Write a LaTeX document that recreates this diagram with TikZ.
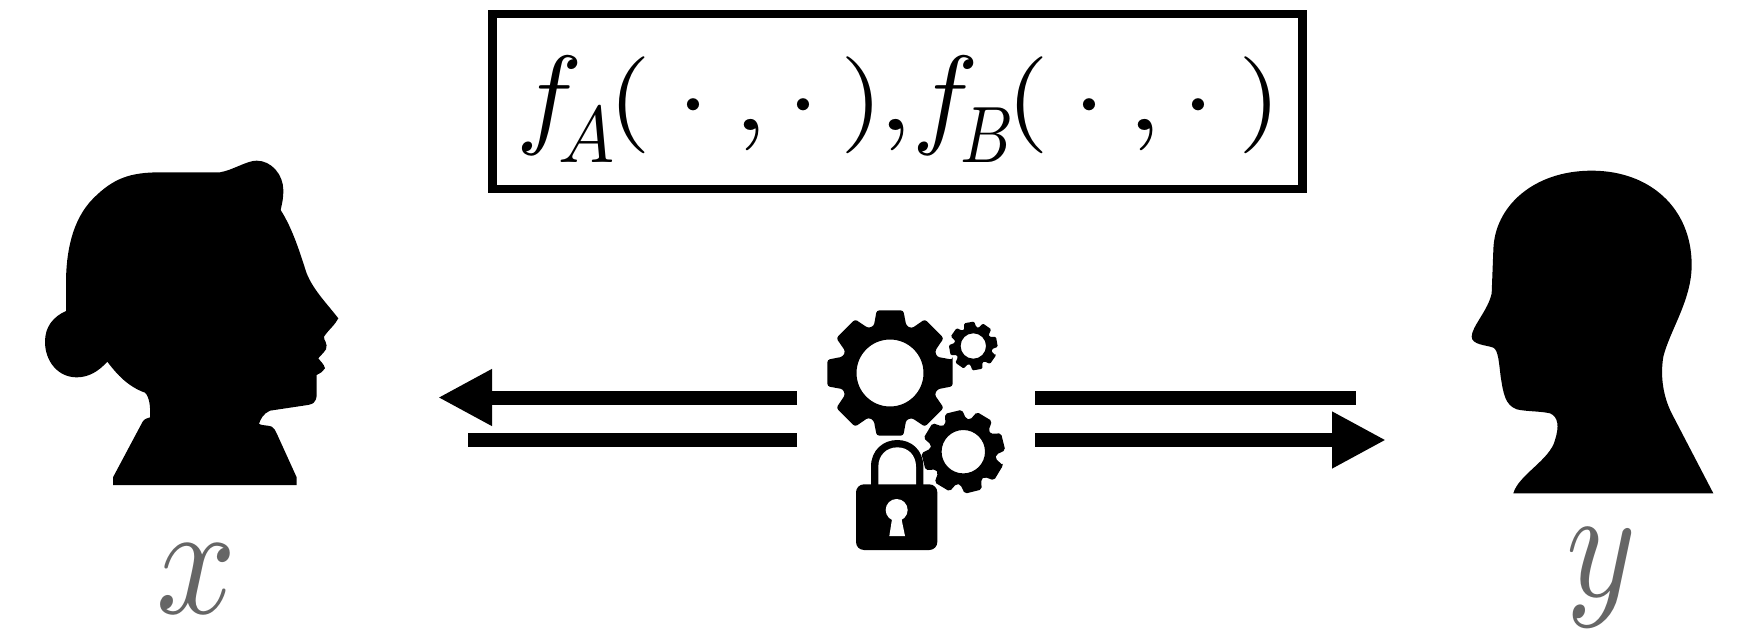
\documentclass[tikz,border=0pt]{standalone}
\usetikzlibrary{arrows.meta}
\definecolor{labelgrey}{HTML}{666666}
\newcommand{\gearshape}[7]{% cx cy rout rroot rhole rot corner
  \begin{scope}[shift={(#1,#2)}]
    \fill[black,even odd rule,rounded corners=#7pt]
      ({#6-12}:#3)
      foreach \a in {0,45,...,315} {
        -- ({#6+\a-12}:#3) -- ({#6+\a+12}:#3)
        -- ({#6+\a+19}:#4) -- ({#6+\a+26}:{#4-0.3})
      } -- cycle
      (0,0) circle[radius=#5pt];
  \end{scope}}
% formula pieces: raised/lowered relative to the baseline of the formula
\newcommand{\ff}{\raisebox{-1pt}{\scalebox{11.1}{$f$}}}
\newcommand{\fsub}[2]{\raisebox{-29pt}{\scalebox{#1}[8]{$#2$}}}
\newcommand{\lp}{\raisebox{4pt}{\scalebox{11}[9.7]{$($}}}
\newcommand{\rp}{\raisebox{4pt}{\scalebox{11}[9.7]{$)$}}}
\newcommand{\dt}{\scalebox{11.5}{$\cdot$}}
\newcommand{\cm}{\raisebox{2pt}{\scalebox{12.5}[10.5]{$,$}}}
\tikzset{
  bar/.style={line width=14pt,black},
  headbar/.style={bar,-{Triangle[length=54pt,width=53pt]}},
  funcbox/.style={draw=black,line width=8.5pt,minimum width=810pt,minimum height=175pt,inner sep=0pt},
  varlabel/.style={text=labelgrey,inner sep=0pt,anchor=base}
}
\begin{document}
\begin{tikzpicture}[x=1pt,y=-1pt]
\useasboundingbox (0,0) rectangle (1751,629);
\fill[white] (0,0) rectangle (1751,629);

% function box
\node[funcbox] (box) at (897.5,101.5) {};
\node[anchor=base west,inner sep=0pt] (formula) at (516,133)
  {\ff\kern-24pt\fsub{7.5}{A}\kern-6pt\lp\kern26pt\dt\kern24.5pt\cm\kern18.5pt\dt\kern21pt\rp\kern-4.5pt\cm\kern-0.5pt\ff\kern-18pt\fsub{6.56}{B}\kern-7pt\lp\kern24pt\dt\kern21.5pt\cm\kern20.5pt\dt\kern24pt\rp};

% woman
\begin{scope}[shift={(30,140)},scale=1/3]
\fill[black] (249,1035) -- (249,1012) -- (338,845)
  .. controls (345,835) and (352,835) .. (360,832)
  .. controls (362,800) and (358,770) .. (345,758)
  .. controls (295,740) and (262,705) .. (232,665)
  .. controls (205,695) and (175,712) .. (140,712)
  .. controls (85,712) and (45,665) .. (45,605)
  .. controls (45,560) and (70,530) .. (108,513)
  -- (108,430)
  .. controls (108,340) and (125,240) .. (190,175)
  .. controls (250,115) and (300,97) .. (390,97)
  -- (570,97)
  .. controls (610,90) and (650,62) .. (680,62)
  .. controls (725,62) and (760,105) .. (760,150)
  .. controls (760,180) and (755,195) .. (752,210)
  .. controls (790,270) and (810,340) .. (830,400)
  .. controls (850,450) and (890,490) .. (925,535)
  .. controls (915,555) and (895,570) .. (882,590)
  .. controls (880,600) and (895,610) .. (888,628)
  .. controls (880,640) and (870,648) .. (865,655)
  .. controls (872,665) and (882,672) .. (885,685)
  .. controls (880,695) and (870,700) .. (860,705)
  -- (860,760)
  .. controls (860,790) and (850,793) .. (820,797)
  -- (720,812)
  .. controls (700,820) and (690,840) .. (687,852)
  .. controls (700,858) and (715,855) .. (725,860)
  .. controls (733,865) and (737,872) .. (740,880)
  -- (800,1012) -- (800,1035) -- cycle;
\end{scope}

% man
\begin{scope}[shift={(1450,150)},scale=1/3]
\fill[black] (190,1030)
  .. controls (205,975) and (300,930) .. (315,870)
  .. controls (328,830) and (325,800) .. (300,790)
  .. controls (270,783) and (230,785) .. (200,778)
  .. controls (165,765) and (160,730) .. (152,680)
  .. controls (147,640) and (145,600) .. (130,593)
  .. controls (110,585) and (65,585) .. (65,560)
  .. controls (65,530) and (115,480) .. (125,430)
  -- (130,300)
  .. controls (133,170) and (250,62) .. (425,62)
  .. controls (600,62) and (725,175) .. (725,345)
  .. controls (725,450) and (660,540) .. (640,620)
  .. controls (630,680) and (640,740) .. (665,790)
  -- (790,1030) -- cycle;
\end{scope}

% gears
\gearshape{890}{373}{64}{50}{33.5}{0}{2.5}
\gearshape{973.3}{346}{24.5}{19}{12.7}{35}{1.2}
\gearshape{963.3}{451.7}{42}{33}{21.7}{31}{2}

% padlock
\begin{scope}[shift={(810,290)},scale=1/3]
\fill[black] (183,590) -- (183,530)
  .. controls (183,480) and (220,450) .. (262,450)
  .. controls (304,450) and (340,480) .. (340,530)
  -- (340,590) -- cycle;
\fill[white] (205,590) -- (205,530)
  .. controls (205,495) and (230,472) .. (262,472)
  .. controls (294,472) and (318,495) .. (318,530)
  -- (318,590) -- cycle;
\fill[black,rounded corners=8pt] (138,583) rectangle (382,780);
\fill[white] (260,660) circle[radius=33pt];
\fill[white] (248,675) -- (238,738) -- (285,738) -- (272,675) -- cycle;
\end{scope}

% connectors
\coordinate (la) at (797,397.5); \coordinate (lb) at (438,397.5);
\coordinate (lc) at (797,440); \coordinate (ld) at (468,440);
\coordinate (ra) at (1035,397.5); \coordinate (rb) at (1356,397.5);
\coordinate (rc) at (1035,440); \coordinate (rd) at (1386,440);
\draw[headbar] (la) -- (lb);
\draw[bar] (lc) -- (ld);
\draw[bar] (ra) -- (rb);
\draw[headbar] (rc) -- (rd);

% labels
\node[varlabel] (xlabel) at (197,613) {\scalebox{14}[16]{$x$}};
\node[varlabel] (ylabel) at (1601,596) {\scalebox{13.3}[15.8]{$y$}};
\end{tikzpicture}
\end{document}
